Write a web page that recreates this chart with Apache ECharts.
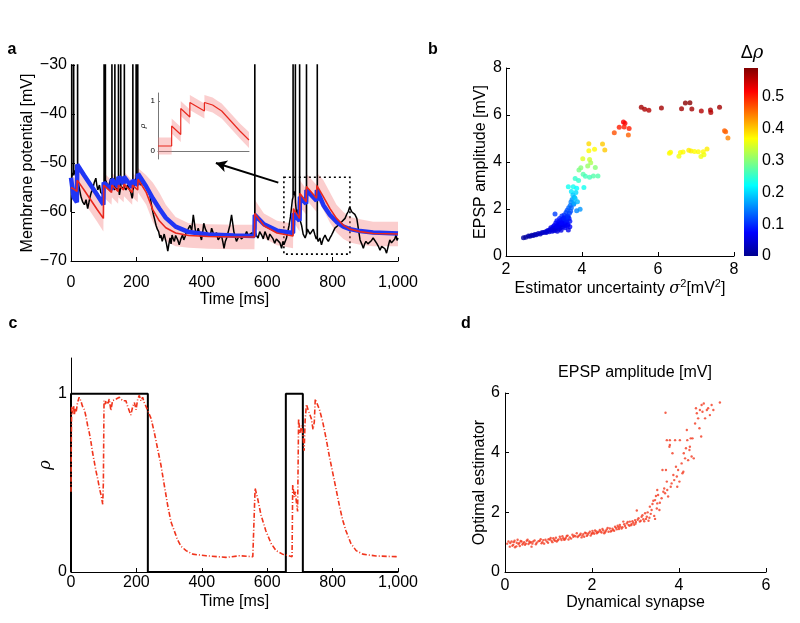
<!DOCTYPE html>
<html><head><meta charset="utf-8">
<script src="https://cdn.jsdelivr.net/npm/echarts@6/dist/echarts.min.js"></script>
<style>html,body{margin:0;padding:0;background:#fff}#c{width:800px;height:623px}</style>
</head><body><div id="c"></div>
<script>
// ---------------- Panel a data ----------------
const traceA = [[0,-60],[1,-55],[2,-53],[2,20],[2.5,-53],[5,-52],[8,-52.5],[8,20],[8.5,-52.5],[12,-51.5],[15,-52.5],[20,-53.5],[20,20],[20.5,-53.5],[25,-55],[31,-57],[36,-58],[41,-58.5],[46,-57.5],[51,-59.3],[55,-58],[58,-57],[62,-56],[66,-55.5],[71,-54],[76,-53.1],[79,-54.5],[82,-55.5],[87,-54.5],[91,-56],[95,-55.9],[98,-56.5],[101,-56],[101,20],[101.5,-54],[105,-53.5],[105,20],[105.5,-53.5],[110,-54.2],[115,-54.8],[118,-54],[122,-53.1],[125,-54],[125,20],[125.5,-54],[129,-55],[134,-55.5],[134,20],[134.5,-55],[140,-55.2],[145,-55.5],[145,20],[145.5,-55],[148,-56.5],[152,-55],[152,20],[152.5,-55],[158,-54.8],[163,-55],[163,20],[163.5,-55],[168,-55.5],[173,-54.5],[178,-54.8],[183,-56],[187,-57.2],[189,-56.5],[189,20],[189.5,-55.5],[194,-55.5],[199,-53],[199,20],[199.5,-52.5],[204,-52.4],[204,20],[204.5,-52.5],[209,-53.1],[213,-54.5],[217,-54.2],[224,-53.8],[229,-54.8],[234,-55.2],[238,-55.8],[242,-56.9],[248,-59.3],[252,-60.5],[255,-61.3],[260,-62.7],[264,-63.5],[268,-64],[272,-65.3],[275,-64.7],[279,-66],[282,-65.7],[285,-64.5],[288,-64.7],[292,-66.5],[296,-68],[300,-66.3],[303,-65.3],[306,-66.5],[309,-64.7],[313,-65.5],[316,-66],[320,-64.8],[323,-65],[327,-65.8],[331,-66.7],[336,-65.5],[341,-64.7],[345,-65.7],[349,-65],[353,-64],[358,-63.5],[364,-62.7],[369,-63.8],[374,-60.6],[378,-62.5],[382,-64.7],[386,-64],[389,-63.3],[394,-64.5],[399,-65.7],[403,-64],[406,-62.3],[411,-63.5],[415,-64],[419,-65],[423,-65.3],[427,-64.5],[430,-63.3],[435,-64.3],[440,-65],[445,-64.2],[450,-65.7],[455,-65.3],[460,-64.7],[464,-66],[468,-67.4],[472,-66],[476,-65.3],[481,-64],[486,-62.7],[491,-60.6],[495,-62.5],[498,-64],[502,-65],[506,-66],[511,-65.3],[516,-64.7],[521,-65.5],[527,-65.7],[532,-64.8],[537,-64],[542,-64.8],[547,-65],[552,-64.3],[557,-64.7],[562,-64.5],[562,20],[562.5,-64],[567,-64.8],[572,-65.3],[577,-64],[583,-64.7],[588,-65.5],[593,-64],[598,-64.8],[603,-65.7],[608,-64.5],[613,-64.7],[618,-65.5],[623,-66.4],[628,-65.5],[634,-65.3],[639,-66.3],[644,-67.4],[648,-66],[651,-66.7],[655,-66],[659,-65.3],[663,-64],[667,-62.7],[671,-61],[674,-59.3],[677,-57.5],[679,-57],[679,20],[679.5,-56.5],[682,-55.8],[686,-57],[686,20],[686.5,-58],[690,-60.5],[693,-59.5],[696,-60.5],[699,-61.5],[699,20],[699.5,-61.5],[702,-62],[705,-62.7],[710,-64.5],[716,-65.3],[720,-64.5],[720,20],[720.5,-64.5],[723,-63.5],[726,-63.5],[731,-64.5],[736,-64.7],[741,-63.5],[746,-64.7],[750,-65.5],[753,-65],[753,20],[753.5,-65.5],[756,-66],[761,-65.3],[766,-66.7],[771,-65.5],[777,-64.7],[782,-65.5],[787,-66],[792,-65.3],[797,-64.7],[802,-64],[807,-63.3],[812,-63.5],[817,-62.7],[822,-63],[828,-62],[833,-61.8],[838,-61.3],[843,-60.5],[848,-59.9],[852,-59],[855,-59.3],[859,-60],[863,-60.3],[868,-60.5],[874,-61.3],[879,-63.5],[884,-65.7],[889,-66.5],[894,-67.4],[898,-66.5],[902,-66],[908,-66.5],[914,-66.7],[919,-65.8],[924,-65.3],[930,-65.5],[935,-66.4],[940,-67],[945,-67.8],[950,-67],[955,-66.7],[960,-67.5],[965,-68.4],[970,-67],[975,-65.7],[980,-66.3],[986,-66.7],[990,-65.5],[994,-64.7],[997,-65.8],[1000,-65.3]];

const modelT   = [0,8,18,19,40,60,80,99,100,124,125,144,145,161,162,187,188,204,205,230,250,270,290,320,360,420,500,561,562,590,630,679,680,699,700,719,720,751,752,772,792,812,833,853,884,924,1000];
const estRed   = [-55,-55.3,-55.8,-53.5,-55.5,-57.5,-59.5,-61.3,-54.5,-56,-54.5,-55.8,-54.5,-55.5,-54.3,-56,-54.5,-55.5,-53.3,-56,-59.5,-61.8,-63.2,-64.3,-64.8,-65,-65.1,-65.1,-60.3,-62.8,-64.3,-64.9,-59.3,-61.3,-56.2,-57.9,-54.8,-57.2,-54.6,-56.9,-59.3,-61.3,-62.7,-63.5,-64,-64.4,-64.5];
const dynBlue  = [-53,-57,-58,-50.3,-52.5,-54.5,-56.5,-58.5,-54,-55.5,-53.3,-54.8,-52.8,-54.2,-52.8,-55,-53.5,-54.5,-52.2,-54.8,-57.2,-59.3,-61.2,-63,-64.1,-64.6,-64.8,-64.9,-60.6,-62.5,-63.8,-64.3,-60.3,-61.8,-56.9,-58.3,-55.5,-57.7,-55.5,-58.6,-60.6,-62,-63,-63.5,-63.9,-64.2,-64.4];
const bandLo   = [-57.5,-57.5,-58.2,-56,-58,-60,-62,-64,-57,-58.5,-57,-58.3,-57,-58,-56.8,-58.5,-57,-58,-56,-58.5,-62,-64.5,-66,-67,-67.3,-67.5,-67.6,-67.6,-63,-65.3,-66.8,-67.4,-62,-64,-59,-60.5,-57.5,-60,-57.3,-59.6,-62.2,-64.2,-65.5,-66.2,-66.7,-67,-67];
const bandHi   = [-52.5,-52.8,-53.5,-51,-53,-55,-57,-58.5,-52,-53.5,-52,-53.3,-52,-53,-51.8,-53.5,-52,-53,-51,-52.5,-54,-56,-58.5,-61,-62.3,-62.5,-62.6,-62.6,-57.5,-60.3,-61.8,-62.4,-56.5,-58.5,-53.5,-55.3,-52.2,-54.5,-52,-53.5,-56,-58.5,-60,-61,-61.5,-62,-62];
const zoomBox  = [651, 853, -68.6, -52.9];   // t0, t1, vLow, vHigh
const arrowFrom = [634, -54], arrowTo = [443, -50];

// inset (rho within the dotted box)
const insetT   = [650,680,680,700,700,720,720,752,752,770,790,810,830,850];
const insetRho = [0.1,0.1,0.5,0.33,0.85,0.68,0.97,0.8,0.97,0.92,0.8,0.6,0.4,0.22];
const insetLo  = [-0.07,-0.07,0.35,0.18,0.7,0.53,0.82,0.65,0.82,0.77,0.65,0.45,0.25,0.06];
const insetHi  = [0.27,0.27,0.65,0.48,1.0,0.83,1.12,0.95,1.12,1.07,0.95,0.75,0.55,0.38];

// ---------------- Panel b data: [sigma^2, EPSP amp, delta rho] ----------------
const scatterB = [[2.46,0.78,0.01],[2.52,0.80,0.01],[2.59,0.85,0.015],[2.63,0.84,0.015],[2.68,0.88,0.02],[2.72,0.87,0.02],[2.76,0.92,0.025],[2.80,0.90,0.025],[2.85,0.96,0.03],[2.90,0.94,0.03],[2.94,0.99,0.035],[2.98,1.00,0.035],[3.03,1.02,0.04],[3.06,1.00,0.04],[3.08,1.06,0.045],[3.11,1.08,0.045],[3.14,1.03,0.045],[3.16,1.12,0.05],[3.18,1.20,0.055],[3.20,1.13,0.05],[3.22,1.05,0.05],[3.24,1.25,0.06],[3.25,1.16,0.055],[3.27,1.30,0.065],[3.29,1.18,0.055],[3.29,1.79,0.11],[3.30,1.10,0.05],[3.31,1.40,0.07],[3.33,1.22,0.06],[3.34,1.50,0.08],[3.35,1.05,0.05],[3.36,1.32,0.065],[3.38,1.25,0.06],[3.39,1.45,0.075],[3.40,1.15,0.055],[3.41,1.60,0.09],[3.42,1.36,0.07],[3.43,1.20,0.06],[3.44,1.52,0.08],[3.46,1.32,0.065],[3.47,1.70,0.10],[3.48,1.42,0.075],[3.49,1.25,0.06],[3.50,1.58,0.085],[3.51,1.48,0.08],[3.52,1.35,0.07],[3.53,1.75,0.10],[3.54,1.62,0.09],[3.55,1.39,0.075],[3.56,1.30,0.07],[3.57,1.55,0.085],[3.58,1.85,0.11],[3.59,1.45,0.08],[3.60,1.53,0.085],[3.61,1.95,0.12],[3.62,1.70,0.10],[3.63,1.35,0.075],[3.64,1.67,0.10],[3.64,1.11,0.06],[3.65,2.05,0.13],[3.66,1.60,0.09],[3.67,1.82,0.11],[3.68,1.25,0.07],[3.68,1.48,0.085],[3.69,2.15,0.14],[3.70,1.90,0.12],[3.71,2.30,0.15],[3.72,2.05,0.13],[3.72,2.74,0.21],[3.74,2.40,0.16],[3.76,2.60,0.19],[3.77,2.95,0.23],[3.78,2.20,0.14],[3.79,2.24,0.17],[3.80,2.50,0.18],[3.82,2.45,0.19],[3.82,3.30,0.25],[3.84,2.70,0.2],[3.86,2.88,0.22],[3.86,1.93,0.15],[3.88,2.31,0.18],[3.91,3.21,0.25],[3.92,3.66,0.29],[3.95,1.99,0.16],[3.97,3.76,0.30],[3.64,2.95,0.23],[3.60,1.65,0.1],[3.45,1.10,0.055],[3.55,1.20,0.065],[3.62,1.30,0.07],[3.35,1.28,0.065],[3.25,1.08,0.05],[3.45,1.40,0.075],[3.52,1.62,0.09],
[4.05,2.92,0.23],[4.02,4.14,0.35],[4.03,3.48,0.27],[4.09,3.39,0.26],[4.15,3.83,0.31],[4.18,4.78,0.39],[4.18,4.48,0.37],[4.20,4.11,0.34],[4.20,3.35,0.26],[4.23,3.97,0.32],[4.30,3.40,0.27],[4.33,4.54,0.37],[4.35,3.77,0.30],[4.42,3.40,0.27],[4.54,4.77,0.40],[4.60,4.51,0.40],
[4.85,5.25,0.47],[4.98,5.48,0.5],[5.09,5.70,0.52],[5.13,5.65,0.52],[5.11,5.49,0.5],[5.24,5.43,0.5],[5.22,5.15,0.46],
[5.56,6.33,0.57],[5.65,6.24,0.565],[5.76,6.20,0.56],[6.09,6.30,0.57],[6.62,6.27,0.57],[6.72,6.51,0.585],[6.84,6.52,0.585],[6.89,6.26,0.57],[7.14,6.17,0.56],[7.38,6.21,0.565],[7.39,6.11,0.56],[7.62,6.33,0.57],
[7.75,5.33,0.46],[7.78,5.29,0.46],[7.84,5.02,0.44],
[6.30,4.37,0.37],[6.33,4.41,0.37],[6.55,4.24,0.36],[6.59,4.40,0.37],[6.66,4.43,0.37],[6.81,4.50,0.38],[6.87,4.47,0.38],[6.96,4.45,0.37],[7.06,4.44,0.37],[7.13,4.23,0.36],[7.19,4.44,0.37],[7.21,4.31,0.36],[7.29,4.55,0.38]];
const cbMax = 0.59;
const cbTicks = [0,0.1,0.2,0.3,0.4,0.5];
const JET = ['#00008F','#0000FF','#0080FF','#00FFFF','#80FF80','#FFFF00','#FF8000','#FF0000','#800000'];

// ---------------- Panel c data ----------------
const stimT = [0,0,235,235,657,657,709,709,1000];
const stimV = [0,1,1,0,0,1,1,0,0];
const rhoC = [[0,0.45],[1,0.75],[2,0.93],[5,0.89],[8,0.93],[10,0.88],[13,0.92],[16,0.9],[20,0.95],[25,0.98],[30,0.96],[35,0.93],[41,0.91],[46,0.87],[51,0.82],[56,0.78],[61,0.73],[66,0.67],[71,0.62],[76,0.57],[82,0.52],[87,0.47],[92,0.43],[97,0.38],[99,0.5],[101,0.96],[104,0.94],[107,0.96],[112,0.94],[117,0.97],[122,0.905],[127,0.96],[133,0.95],[138,0.97],[143,0.96],[148,0.98],[153,0.98],[158,0.96],[163,0.97],[168,0.96],[173,0.93],[178,0.94],[183,0.88],[189,0.93],[194,0.95],[199,0.91],[204,0.97],[209,0.99],[214,0.96],[219,0.98],[224,0.95],[229,0.93],[234,0.92],[245,0.86],[255,0.78],[265,0.69],[275,0.60],[285,0.49],[296,0.37],[306,0.28],[316,0.23],[326,0.18],[336,0.145],[352,0.12],[372,0.10],[413,0.091],[474,0.082],[515,0.091],[556,0.086],[562,0.086],[563,0.47],[571,0.41],[581,0.32],[596,0.23],[612,0.16],[627,0.12],[647,0.10],[676,0.086],[678,0.49],[683,0.42],[686,0.45],[690,0.38],[693,0.34],[696,0.86],[700,0.78],[705,0.82],[710,0.75],[713,0.68],[716,0.85],[720,0.94],[725,0.91],[730,0.9],[735,0.86],[740,0.80],[744,0.84],[747,0.97],[752,0.96],[760,0.91],[770,0.84],[780,0.75],[790,0.65],[800,0.56],[810,0.47],[821,0.37],[831,0.29],[841,0.23],[856,0.16],[872,0.12],[892,0.10],[933,0.09],[994,0.086],[1000,0.085]];

// ---------------- Panel d data: [dynamical synapse, optimal estimator] ----------------
const scatterD = [[0.08,1.02],[0.11,0.85],[0.15,1.02],[0.19,0.91],[0.23,0.83],[0.27,0.98],[0.31,0.94],[0.34,0.87],[0.38,1.02],[0.42,0.96],[0.46,0.91],[0.50,1.05],[0.54,0.94],[0.57,0.98],[0.61,0.85],[0.65,1.02],[0.73,0.98],[0.80,1.05],[0.84,0.96],[0.88,1.07],[0.96,1.02],[1.03,1.09],[1.07,1.05],[1.11,1.13],[1.19,1.02],[1.23,1.09],[1.26,1.18],[1.30,1.07],[1.34,1.13],[1.42,1.21],[1.46,1.09],[1.49,1.16],[1.57,1.18],[1.65,1.30],[1.69,1.21],[1.72,1.24],[1.76,1.16],[1.80,1.27],[1.84,1.32],[1.88,1.21],[1.92,1.30],[1.95,1.35],[1.99,1.27],[2.03,1.32],[2.07,1.39],[2.11,1.30],[2.15,1.35],[2.18,1.41],[2.22,1.32],[2.26,1.39],[2.34,1.43],[2.38,1.35],[2.41,1.46],[2.49,1.41],[2.53,1.52],[2.57,1.43],[2.61,1.50],[2.64,1.58],[2.68,1.46],[2.72,1.69],[2.76,1.54],[2.80,1.63],[2.84,1.58],[2.87,1.69],[2.91,1.61],[2.95,1.65],[2.99,1.74],[3.03,2.06],[3.07,1.80],[3.10,1.69],[3.14,1.85],[3.18,1.77],[3.22,1.97],[3.26,1.85],[3.30,1.72],[3.33,2.19],[3.37,2.08],[3.39,2.28],[3.41,2.39],[3.43,1.88],[3.45,2.41],[3.47,2.55],[3.49,2.13],[3.50,2.75],[3.52,2.58],[3.55,2.08],[3.56,2.32],[3.60,2.47],[3.62,3.42],[3.64,2.69],[3.66,2.80],[3.68,2.64],[3.69,5.34],[3.70,3.42],[3.72,3.03],[3.72,4.42],[3.73,2.75],[3.75,2.53],[3.78,4.20],[3.79,4.42],[3.79,4.26],[3.81,2.86],[3.83,2.97],[3.85,3.98],[3.87,3.25],[3.89,3.08],[3.91,4.42],[3.93,3.53],[3.95,3.20],[3.96,2.86],[3.98,3.42],[4.01,3.03],[4.02,4.42],[4.06,3.64],[4.08,3.31],[4.10,3.36],[4.11,3.98],[4.14,3.81],[4.16,4.15],[4.18,4.76],[4.19,4.42],[4.21,3.75],[4.24,4.09],[4.25,4.20],[4.27,4.48],[4.29,3.87],[4.31,4.48],[4.34,3.81],[4.37,4.98],[4.39,5.49],[4.41,5.32],[4.44,5.15],[4.47,4.82],[4.48,5.43],[4.51,4.54],[4.52,5.60],[4.54,5.37],[4.57,5.65],[4.60,5.15],[4.64,5.43],[4.67,5.49],[4.71,5.26],[4.75,5.60],[4.79,5.43],[4.94,5.68],
[0.2,1.0],[0.4,0.92],[0.6,1.0],[0.9,0.95],[1.0,1.1],[1.15,1.05],[1.38,1.1],[1.55,1.25],[1.62,1.2],[1.9,1.25],[2.0,1.3],[2.1,1.36],[2.3,1.33],[2.45,1.38],[2.65,1.52],[2.9,1.57],[3.0,1.62],[3.2,1.7],[3.35,1.95],[3.5,2.3],[3.45,1.78],
[0.05,0.95],[0.12,0.97],[0.17,0.88],[0.22,1.05],[0.26,0.86],[0.29,1.08],[0.33,0.97],[0.36,1.04],[0.44,1.0],[0.48,0.95],[0.52,1.08],[0.56,1.02],[0.63,0.95],[0.68,1.06],[0.71,0.93],[0.77,1.03],[0.82,1.1],[0.86,1.0],[0.93,1.08],[0.99,0.98],[1.05,1.14],[1.09,1.0],[1.13,1.08],[1.17,1.15],[1.21,1.06],[1.28,1.12],[1.32,1.2],[1.36,1.08],[1.40,1.15],[1.44,1.22],[1.52,1.12],[1.59,1.22],[1.67,1.17],[1.74,1.28],[1.78,1.22],[1.82,1.18],[1.86,1.3],[1.97,1.22],[2.01,1.38],[2.05,1.28],[2.13,1.32],[2.2,1.36],[2.24,1.44],[2.28,1.3],[2.32,1.38],[2.36,1.48],[2.43,1.36],[2.47,1.45],[2.51,1.38],[2.55,1.48],[2.59,1.55],[2.62,1.44],[2.7,1.5],[2.74,1.6],[2.78,1.48],[2.82,1.68],[2.86,1.55],[2.93,1.7],[2.97,1.58],[3.01,1.68],[3.05,1.75],[3.12,1.72],[3.16,1.9],[3.24,1.78],[3.28,2.0],[3.32,1.82]];

// ---------------- chart ----------------
const FONT = "'Liberation Sans', Arial, Helvetica, sans-serif";
function merge(a, b) { const o = Object.assign({}, a); for (const k in b) { o[k] = (b[k] && typeof b[k] === 'object' && !Array.isArray(b[k]) && a[k] && typeof a[k] === 'object') ? merge(a[k], b[k]) : b[k]; } return o; }
const base = {
  axisLine: { lineStyle: { color: '#000', width: 1 } },
  axisTick: { inside: true, length: 4, lineStyle: { color: '#000' } },
  axisLabel: { color: '#000', fontSize: 16, fontFamily: FONT },
  splitLine: { show: false },
  nameTextStyle: { color: '#000', fontSize: 16, fontFamily: FONT },
  nameLocation: 'middle'
};
const ax = o => merge(base, o);

const grids = [
  { left: 71, top: 65, width: 327, height: 196 },
  { left: 158, top: 93, width: 91, height: 66 },
  { left: 506, top: 68, width: 228, height: 188 },
  { left: 744, top: 68, width: 14, height: 188 },
  { left: 71, top: 358, width: 327, height: 214 },
  { left: 505, top: 393, width: 261, height: 179 }
];
const fmtTime = v => v === 1000 ? '1,000' : String(v);

const xAxis = [
  ax({ gridIndex: 0, type: 'value', min: 0, max: 1000, interval: 200, axisLabel: { formatter: fmtTime, margin: 14 }, name: 'Time [ms]', nameGap: 28 }),
  ax({ gridIndex: 1, type: 'value', min: 650, max: 850, axisLabel: { show: false }, axisTick: { show: false }, axisLine: { lineStyle: { color: '#777' } } }),
  ax({ gridIndex: 2, type: 'value', min: 2, max: 8, interval: 2, axisLabel: { margin: 6 },
       name: 'Estimator uncertainty {i|σ}{s|2}[mV{s|2}]', nameGap: 22,
       nameTextStyle: { rich: { i: { fontStyle: 'italic', fontSize: 16, fontFamily: 'DejaVu Serif' }, s: { fontSize: 11, padding: [0, 0, 9, 0], fontFamily: FONT } } } }),
  { gridIndex: 3, type: 'category', data: ['cb'], show: false },
  ax({ gridIndex: 4, type: 'value', min: 0, max: 1000, interval: 200, axisLabel: { formatter: fmtTime, margin: 3 }, name: 'Time [ms]', nameGap: 22 }),
  ax({ gridIndex: 5, type: 'value', min: 0, max: 6, interval: 2, axisLabel: { margin: 6 }, name: 'Dynamical synapse', nameGap: 22 })
];
const yAxis = [
  ax({ gridIndex: 0, type: 'value', min: -70, max: -30, interval: 10, axisLabel: { formatter: v => String(v).replace('-', '\u2212'), margin: 4 }, name: 'Membrane potential [mV]', nameGap: 30 }),
  ax({ gridIndex: 1, type: 'value', min: -0.16, max: 1.16, axisLine: { lineStyle: { color: '#777' } },
       axisLabel: { customValues: [0, 1], fontSize: 8, margin: 3 }, axisTick: { customValues: [0, 1], length: 2, lineStyle: { color: '#777' } },
       name: 'ρ', nameGap: 6, nameTextStyle: { fontSize: 8, fontStyle: 'italic' } }),
  ax({ gridIndex: 2, type: 'value', min: 0, max: 8, interval: 2, axisLabel: { margin: 4 }, name: 'EPSP amplitude [mV]', nameGap: 17 }),
  ax({ gridIndex: 3, type: 'value', min: 0, max: cbMax, position: 'right', axisLine: { show: false }, axisTick: { show: false }, axisLabel: { customValues: cbTicks, margin: 4 } }),
  ax({ gridIndex: 4, type: 'value', min: 0, max: 1.2, axisLabel: { customValues: [0, 1], margin: 4 }, axisTick: { customValues: [0, 1] }, name: 'ρ', nameGap: 16, nameTextStyle: { fontStyle: 'italic', fontFamily: 'DejaVu Serif' } }),
  ax({ gridIndex: 5, type: 'value', min: 0, max: 6, interval: 2, axisLabel: { margin: 5 }, name: 'Optimal estimator', nameGap: 15 })
];

// band drawn as one polygon through the axis scales (upper edge, then lower edge backwards)
function bandRenderer(tArr, loArr, hiArr, fill) {
  return function (params, api) {
    if (params.dataIndex !== 0) return null;
    const up = tArr.map((t, i) => api.coord([t, hiArr[i]]));
    const dn = tArr.map((t, i) => api.coord([t, loArr[i]])).reverse();
    return { type: 'polygon', shape: { points: up.concat(dn) }, style: { fill: fill }, silent: true };
  };
}
const PINK = 'rgba(245,120,120,0.36)';

const series = [];
// panel a
series.push({ type: 'custom', xAxisIndex: 0, yAxisIndex: 0, clip: true, z: 1, silent: true,
  data: modelT.map((t, i) => [t, bandLo[i], bandHi[i]]), encode: { x: 0, y: [1, 2] },
  renderItem: bandRenderer(modelT, bandLo, bandHi, PINK) });
series.push({ type: 'line', xAxisIndex: 0, yAxisIndex: 0, data: traceA, showSymbol: false, symbol: 'none',
  lineStyle: { color: '#000', width: 1.5 }, z: 2,
  markArea: { silent: true, data: [[{ coord: [zoomBox[0], zoomBox[3]] }, { coord: [zoomBox[1], zoomBox[2]] }]],
    itemStyle: { color: 'rgba(0,0,0,0)', borderColor: '#000', borderWidth: 1.6, borderType: [2, 3] } },
  markLine: { silent: true, symbol: ['none', 'arrow'], symbolSize: [9, 11], label: { show: false },
    lineStyle: { color: '#000', width: 2, type: 'solid' },
    data: [[{ coord: arrowFrom }, { coord: arrowTo }]] } });
series.push({ type: 'line', xAxisIndex: 0, yAxisIndex: 0, symbol: 'none', data: modelT.map((t, i) => [t, dynBlue[i]]),
  lineStyle: { color: '#2035F5', width: 4.5 }, z: 4 });
series.push({ type: 'line', xAxisIndex: 0, yAxisIndex: 0, symbol: 'none', data: modelT.map((t, i) => [t, estRed[i]]),
  lineStyle: { color: '#E8281E', width: 1.6 }, z: 5 });
// inset
series.push({ type: 'custom', xAxisIndex: 1, yAxisIndex: 1, clip: true, z: 1, silent: true,
  data: insetT.map((t, i) => [t, insetLo[i], insetHi[i]]), encode: { x: 0, y: [1, 2] },
  renderItem: bandRenderer(insetT, insetLo, insetHi, PINK) });
series.push({ type: 'line', xAxisIndex: 1, yAxisIndex: 1, symbol: 'none', data: insetT.map((t, i) => [t, insetRho[i]]),
  lineStyle: { color: '#E8281E', width: 1.2 }, z: 3 });
// panel b
const bIndex = series.length;
series.push({ type: 'scatter', xAxisIndex: 2, yAxisIndex: 2, data: scatterB, symbolSize: 5 });
series.push({ type: 'bar', xAxisIndex: 3, yAxisIndex: 3, data: [cbMax], barWidth: '100%', silent: true,
  itemStyle: { color: { type: 'linear', x: 0, y: 1, x2: 0, y2: 0, colorStops: JET.map((c, i) => ({ offset: i / (JET.length - 1), color: c })) } } });
// panel c
series.push({ type: 'line', xAxisIndex: 4, yAxisIndex: 4, symbol: 'none', data: stimT.map((t, i) => [t, stimV[i]]),
  lineStyle: { color: '#000', width: 2 }, z: 3 });
series.push({ type: 'line', xAxisIndex: 4, yAxisIndex: 4, symbol: 'none', data: rhoC,
  lineStyle: { color: '#F0341C', width: 1.6, type: [5, 2, 1, 2] }, z: 4 });
// panel d
series.push({ type: 'scatter', xAxisIndex: 5, yAxisIndex: 5, data: scatterD, symbolSize: 2.4, itemStyle: { color: '#F23A1F' } });

function txt(x, y, text, font, extra) {
  return Object.assign({ type: 'text', x: x, y: y, silent: true,
    style: Object.assign({ text: text, font: font, fill: '#000', align: 'center', verticalAlign: 'middle', textAlign: 'center', textVerticalAlign: 'middle' }, extra || {}) });
}
const graphic = [
  txt(12, 50, 'a', 'bold 16px ' + FONT),
  txt(433, 50, 'b', 'bold 16px ' + FONT),
  txt(13, 324, 'c', 'bold 16px ' + FONT),
  txt(466, 324, 'd', 'bold 16px ' + FONT),
  txt(635, 373, 'EPSP amplitude [mV]', '16px ' + FONT),
  txt(752, 53, 'Δ{i|ρ}', '18px ' + FONT, { rich: { i: { fontStyle: 'italic', fontSize: 18, fontFamily: 'DejaVu Serif' } } })
];

const chart = echarts.init(document.getElementById('c'), null, { renderer: 'canvas' });
chart.setOption({
  animation: false,
  backgroundColor: '#fff',
  textStyle: { fontFamily: FONT },
  grid: grids,
  xAxis: xAxis,
  yAxis: yAxis,
  visualMap: [{ type: 'continuous', show: false, seriesIndex: bIndex, dimension: 2, min: 0, max: cbMax, inRange: { color: JET } }],
  series: series,
  graphic: graphic
});
</script></body></html>
